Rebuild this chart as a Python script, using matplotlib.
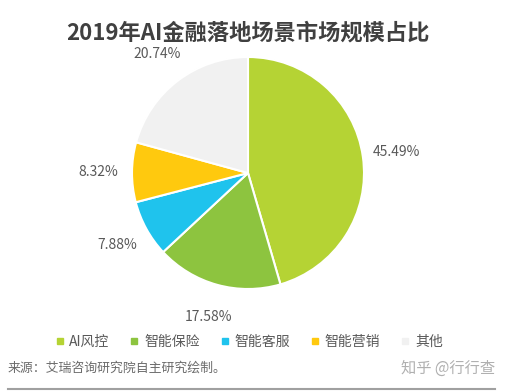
import matplotlib
matplotlib.use("Agg")
import matplotlib.pyplot as plt
from matplotlib.lines import Line2D

plt.rcParams['font.family'] = ['Noto Sans CJK SC', 'DejaVu Sans']

# Dados do gráfico
categorias = ["AI风控", "智能保险", "智能客服", "智能营销", "其他"]
valores = [45.49, 17.58, 7.88, 8.32, 20.74]
cores = ["#b5d334", "#8dc43f", "#1fc3ed", "#ffc90e", "#f1f1f1"]
titulo = "2019年AI金融落地场景市场规模占比"
fonte = "来源：艾瑞咨询研究院自主研究绘制。"
marca = "知乎 @行行查"

W, H = 506, 392
fig = plt.figure(figsize=(W / 100, H / 100), dpi=100)

# eixo da pizza: centro (248,173), raio 116 px
cx, cy, r = 248, 173, 116
ax = fig.add_axes([(cx - r) / W, (H - cy - r) / H, 2 * r / W, 2 * r / H])
fatias, textos = ax.pie(valores, colors=cores, startangle=90, counterclock=False,
                        labels=[f"{v:.2f}%" for v in valores], labeldistance=1.29,
                        wedgeprops=dict(edgecolor="white", linewidth=1.5),
                        textprops=dict(color="#595959", fontsize=10))
for t in textos:
    t.set_ha("center")
    t.set_va("center")
ax.set_xlim(-1, 1)
ax.set_ylim(-1, 1)
ax.set_aspect("equal")
ax.axis("off")

fig.text(248 / W, 1 - 33 / H, titulo, ha="center", va="center",
         fontsize=16, fontweight="bold", color="#404040")

# legenda
handles = [Line2D([], [], marker="s", linestyle="none", markersize=4,
                  markerfacecolor=c, markeredgecolor=c) for c in cores]
fig.legend(handles, categorias, loc="center", bbox_to_anchor=(249 / W, 1 - 342 / H),
           ncol=5, frameon=False, fontsize=10, labelcolor="#595959",
           handlelength=0.6, handletextpad=0.4, columnspacing=1.5)

fig.text(8 / W, 1 - 368 / H, fonte, ha="left", va="center", fontsize=9.3, color="#6b6b6b")
fig.text(495 / W, 1 - 368 / H, marca, ha="right", va="center", fontsize=11, color="#b0b0b0")
fig.add_artist(Line2D([8 / W, 495 / W], [1 - 389 / H, 1 - 389 / H],
                      color="#a0a0a0", linewidth=1.5))

fig.savefig("out.png", dpi=100, facecolor="white")
